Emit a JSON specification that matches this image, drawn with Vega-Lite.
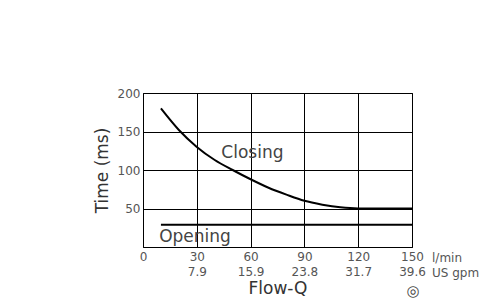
{
  "$schema": "https://vega.github.io/schema/vega-lite/v6.json",
  "width": 269,
  "height": 154,
  "autosize": {"type": "none"},
  "padding": {"left": 143, "top": 93, "right": 88, "bottom": 61},
  "background": "white",
  "config": {
    "font": "DejaVu Sans",
    "view": {"stroke": "black", "strokeWidth": 1},
    "axis": {
      "grid": true, "gridColor": "black", "gridOpacity": 1, "gridWidth": 1,
      "domain": false, "ticks": false, "labelOverlap": false, "labelFlush": false,
      "labelColor": "#555", "labelFontSize": 12, "labelFont": "DejaVu Sans",
      "titleColor": "#333", "titleFontWeight": "normal", "titleFontSize": 17, "titleFont": "DejaVu Sans"
    }
  },
  "datasets": {
    "curves": [
      {"series": "Closing", "Q": 10, "T": 180},
      {"series": "Closing", "Q": 20, "T": 152},
      {"series": "Closing", "Q": 30, "T": 130},
      {"series": "Closing", "Q": 40, "T": 113},
      {"series": "Closing", "Q": 50, "T": 100},
      {"series": "Closing", "Q": 60, "T": 88},
      {"series": "Closing", "Q": 70, "T": 77},
      {"series": "Closing", "Q": 80, "T": 68},
      {"series": "Closing", "Q": 90, "T": 60},
      {"series": "Closing", "Q": 100, "T": 55},
      {"series": "Closing", "Q": 110, "T": 51.5},
      {"series": "Closing", "Q": 120, "T": 50},
      {"series": "Closing", "Q": 150, "T": 50},
      {"series": "Opening", "Q": 10, "T": 29},
      {"series": "Opening", "Q": 150, "T": 29}
    ],
    "labels": [
      {"text": "Closing", "Q": 61, "T": 122},
      {"text": "Opening", "Q": 29, "T": 13}
    ],
    "units": [
      {"text": "l/min", "Q": 150, "T": 0, "line": 1},
      {"text": "US gpm", "Q": 150, "T": 0, "line": 2}
    ],
    "mark": [
      {"text": "◎", "Q": 150, "T": 0}
    ]
  },
  "layer": [
    {
      "data": {"name": "curves"},
      "mark": {"type": "line", "color": "black", "strokeWidth": 2, "interpolate": "monotone"},
      "encoding": {
        "x": {
          "field": "Q", "type": "quantitative",
          "scale": {"domain": [0, 150], "nice": false},
          "axis": {
            "values": [0, 30, 60, 90, 120, 150],
            "tickCount": 20,
            "title": "Flow-Q",
            "labelPadding": 4,
            "labelLineHeight": 15,
            "labelExpr": "datum.value == 0 ? '0' : datum.value == 30 ? ['30', '7.9'] : datum.value == 60 ? ['60', '15.9'] : datum.value == 90 ? ['90', '23.8'] : datum.value == 120 ? ['120', '31.7'] : ['150', '39.6']",
            "titlePadding": 3
          }
        },
        "y": {
          "field": "T", "type": "quantitative",
          "scale": {"domain": [0, 200], "nice": false},
          "axis": {"values": [0, 50, 100, 150, 200], "tickCount": 20, "title": "Time (ms)", "labelPadding": 3, "titlePadding": 6,
            "labelExpr": "datum.value == 0 ? '' : datum.label"}
        },
        "detail": {"field": "series"}
      }
    },
    {
      "data": {"name": "labels"},
      "mark": {"type": "text", "fontSize": 17, "color": "#444", "font": "DejaVu Sans"},
      "encoding": {
        "x": {"field": "Q", "type": "quantitative"},
        "y": {"field": "T", "type": "quantitative"},
        "text": {"field": "text"}
      }
    },
    {
      "data": {"name": "units"},
      "transform": [{"filter": "datum.line == 1"}],
      "mark": {"type": "text", "fontSize": 12, "color": "#555", "align": "left", "baseline": "middle", "dx": 20, "dy": 11},
      "encoding": {
        "x": {"field": "Q", "type": "quantitative"},
        "y": {"field": "T", "type": "quantitative"},
        "text": {"field": "text"}
      }
    },
    {
      "data": {"name": "units"},
      "transform": [{"filter": "datum.line == 2"}],
      "mark": {"type": "text", "fontSize": 12, "color": "#555", "align": "left", "baseline": "middle", "dx": 20, "dy": 26},
      "encoding": {
        "x": {"field": "Q", "type": "quantitative"},
        "y": {"field": "T", "type": "quantitative"},
        "text": {"field": "text"}
      }
    },
    {
      "data": {"name": "mark"},
      "mark": {"type": "text", "fontSize": 15, "color": "#444", "align": "center", "baseline": "middle", "dy": 44, "dx": 1},
      "encoding": {
        "x": {"field": "Q", "type": "quantitative"},
        "y": {"field": "T", "type": "quantitative"},
        "text": {"field": "text"}
      }
    }
  ]
}
